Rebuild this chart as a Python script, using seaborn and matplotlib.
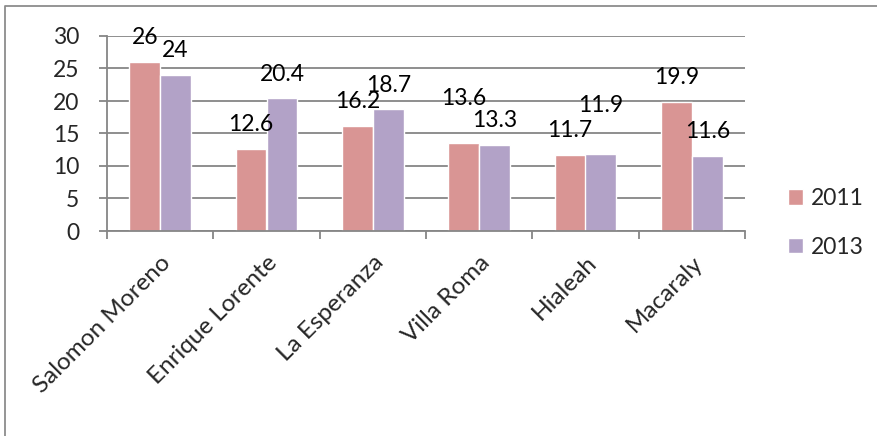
import matplotlib
matplotlib.use("Agg")
import matplotlib.pyplot as plt
from matplotlib.lines import Line2D
from matplotlib.ticker import FixedLocator, MultipleLocator
import pandas as pd
import seaborn as sns

barrios = ["Salomon Moreno", "Enrique Lorente", "La Esperanza", "Villa Roma",
           "Hialeah", "Macaraly"]
years = ["2011", "2013"]
vals_2011 = [26, 12.6, 16.2, 13.6, 11.7, 19.9]
vals_2013 = [24, 20.4, 18.7, 13.3, 11.9, 11.6]

df = pd.DataFrame({
    "barrio": barrios * 2,
    "year": [years[0]] * len(barrios) + [years[1]] * len(barrios),
    "value": vals_2011 + vals_2013,
})

sns.set_style("white")
plt.rcParams["font.family"] = ["Lato", "DejaVu Sans"]
fs = 16.5
grid_c = "#868686"

fig = plt.figure(figsize=(8.77, 4.36), dpi=100)
ax = fig.add_axes([107 / 877, 1 - 231 / 436, (745 - 107) / 877, (231 - 36) / 436])

sns.barplot(data=df, x="barrio", y="value", hue="year", order=barrios,
            hue_order=years, palette=["#D99594", "#B2A2C7"], width=0.58,
            gap=0, saturation=1, errorbar=None, ax=ax, legend=True)

# labels that the original chart pushed higher to avoid collisions
nudge = {("2011", "Villa Roma"): 14, ("2013", "Hialeah"): 17}
for year, cont in zip(years, ax.containers):
    texts = ax.bar_label(cont, fmt="%g", padding=10, fontsize=fs, color="black")
    for name, t in zip(barrios, texts):
        extra = nudge.get((year, name), 0)
        if extra:
            t.xyann = (0, 10 + extra)

ax.set_ylim(0, 30)
ax.set_xlim(-0.5, len(barrios) - 0.5)
ax.yaxis.set_major_locator(MultipleLocator(5))
ax.set_axisbelow(True)
ax.grid(axis="y", color=grid_c, linewidth=1.3)
ax.grid(axis="x", visible=False)
ax.set_xlabel("")
ax.set_ylabel("")

for s in ["top", "right"]:
    ax.spines[s].set_visible(False)
for s in ["left", "bottom"]:
    ax.spines[s].set_color(grid_c)
    ax.spines[s].set_linewidth(1.3)

ax.tick_params(axis="y", which="major", length=6, width=1.3, color=grid_c,
               pad=14, labelsize=fs, left=True)
ax.tick_params(axis="x", which="major", length=0, pad=15, labelsize=17.5)
ax.xaxis.set_minor_locator(FixedLocator([i - 0.5 for i in range(len(barrios) + 1)]))
ax.tick_params(axis="x", which="minor", length=6, width=1.3, color=grid_c,
               bottom=True)
plt.setp(ax.get_xticklabels(), rotation=45, ha="right", rotation_mode="anchor")

ax.legend(loc="upper left", bbox_to_anchor=(788 / 877, 1 - 188 / 436),
          bbox_transform=fig.transFigure, frameon=False, fontsize=fs,
          borderaxespad=0, borderpad=0, handlelength=0.65, handleheight=0.65,
          handletextpad=0.35, labelspacing=1.2, title=None)

# outer chart border
fig.add_artist(Line2D([5 / 877, 5 / 877, 1], [0, 1 - 6 / 436, 1 - 6 / 436],
                      transform=fig.transFigure, color="#8c8c8c", linewidth=1.3))

fig.savefig("out.png", dpi=100)
